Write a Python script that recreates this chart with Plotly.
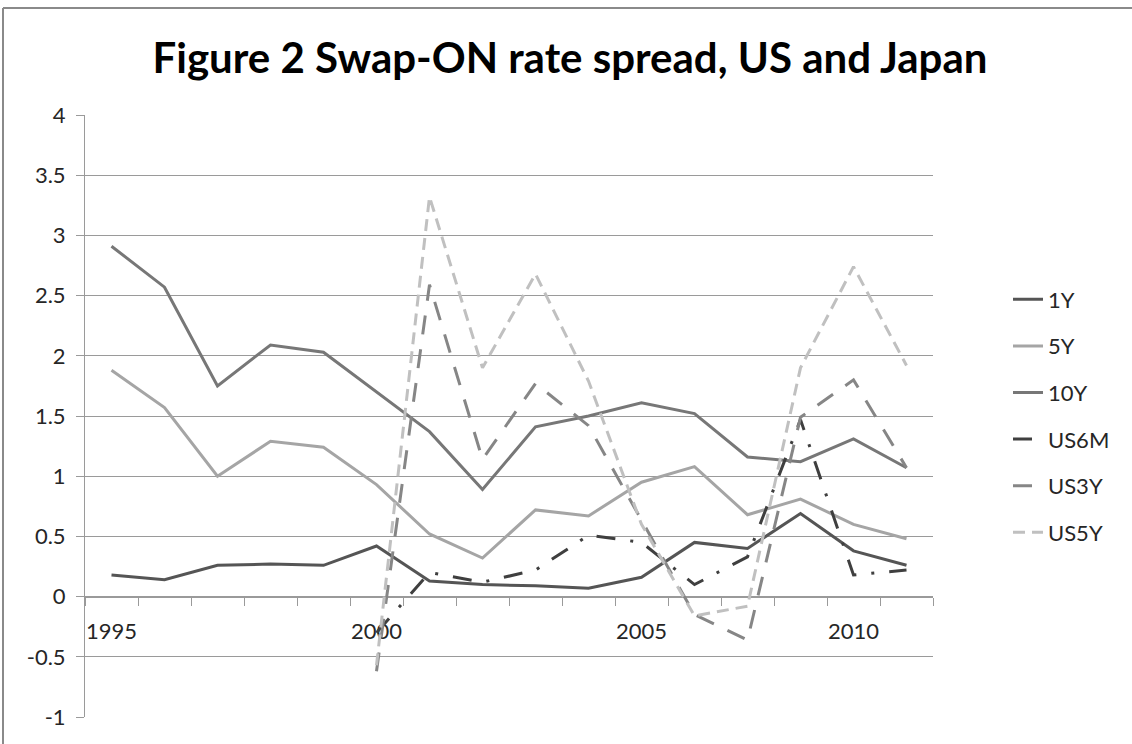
import plotly.graph_objects as go

# Observation years (category axis) and the labels shown under the axis
years = ["1995", "1996", "1997", "1998", "1999", "2000", "2001", "2002",
         "2003", "2004", "2005", "2006", "2007", "2008", "2010", "2011"]
year_labels = ["1995", "", "", "", "", "2000", "", "", "", "", "2005",
               "", "", "", "2010", ""]

# Japan swap-ON spreads
jp_1y = [0.18, 0.14, 0.26, 0.27, 0.26, 0.42, 0.13, 0.10, 0.09, 0.07,
         0.16, 0.45, 0.40, 0.69, 0.38, 0.26]
jp_5y = [1.88, 1.57, 1.00, 1.29, 1.24, 0.93, 0.52, 0.32, 0.72, 0.67,
         0.95, 1.08, 0.68, 0.81, 0.60, 0.48]
jp_10y = [2.91, 2.57, 1.75, 2.09, 2.03, 1.70, 1.37, 0.89, 1.41, 1.50,
          1.61, 1.52, 1.16, 1.12, 1.31, 1.07]

# US swap-ON spreads (available from 2000)
us_6m = [None, None, None, None, None, -0.30, 0.20, 0.12, 0.22, 0.51,
         0.45, 0.10, 0.33, 1.47, 0.18, 0.22]
us_3y = [None, None, None, None, None, -0.62, 2.59, 1.14, 1.77, 1.42,
         0.63, -0.15, -0.36, 1.49, 1.80, 1.07]
us_5y = [None, None, None, None, None, -0.57, 3.32, 1.90, 2.68, 1.79,
         0.60, -0.16, -0.08, 1.90, 2.74, 1.92]

y_ticks = [-1, -0.5, 0, 0.5, 1, 1.5, 2, 2.5, 3, 3.5, 4]
y_labels = ["-1", "-0.5", "0", "0.5", "1", "1.5", "2", "2.5", "3", "3.5", "4"]

series = [
    ("1Y", jp_1y, "#555555", "solid"),
    ("5Y", jp_5y, "#a5a5a5", "solid"),
    ("10Y", jp_10y, "#777777", "solid"),
    ("US6M", us_6m, "#3f3f3f", "19px,15px,3px,15px"),
    ("US3Y", us_3y, "#868686", "19px,15px"),
    ("US5Y", us_5y, "#c0c0c0", "12px,7px"),
]

FONT = "Lato"
TEXT = "#262626"
GRID = "#9a9a9a"

fig = go.Figure()
for name, values, color, dash in series:
    fig.add_trace(go.Scatter(
        x=years, y=values, name=name, mode="lines",
        legendgroup=name,
        line=dict(color=color, width=3, dash=dash),
        connectgaps=False,
    ))

W, H = 1132, 744
ml, mr, mt, mb = 85, 199, 115, 27
pw, ph = W - ml - mr, H - mt - mb
y_lo, y_hi = y_ticks[0], y_ticks[-1]

fig.update_layout(
    width=W, height=H,
    margin=dict(l=ml, r=mr, t=mt, b=mb),
    paper_bgcolor="white", plot_bgcolor="white",
    font=dict(family=FONT, size=22, color=TEXT),
    title=dict(
        text="Figure 2 Swap-ON rate spread, US and Japan",
        font=dict(family=FONT, size=42, color="black", weight="bold"),
        x=570 / W, xanchor="center", xref="container",
        y=1 - 58 / H, yanchor="middle", yref="container",
    ),
    showlegend=True,
    legend=dict(
        x=(1008 - ml) / pw, xanchor="left",
        y=0.5, yanchor="middle",
        traceorder="grouped", tracegroupgap=15,
        font=dict(family=FONT, size=22, color=TEXT),
        bgcolor="rgba(0,0,0,0)",
    ),
    xaxis=dict(
        type="category",
        range=[-0.5, len(years) - 0.5],
        tickmode="array", tickvals=years, ticktext=year_labels,
        tickson="boundaries", tickangle=0,
        ticks="outside", ticklen=8, tickwidth=1, tickcolor=GRID,
        showline=True, linecolor=GRID, linewidth=1,
        showgrid=False, zeroline=False,
        anchor="free", position=(0 - y_lo) / (y_hi - y_lo),
        tickfont=dict(family=FONT, size=22, color=TEXT),
        ticklabelstandoff=15,
        layer="below traces",
    ),
    yaxis=dict(
        range=[y_lo, y_hi],
        tickmode="array", tickvals=y_ticks, ticktext=y_labels,
        ticks="outside", ticklen=8, tickwidth=1, tickcolor=GRID,
        showline=True, linecolor=GRID, linewidth=1,
        showgrid=True, gridcolor=GRID, gridwidth=1,
        zeroline=False,
        tickfont=dict(family=FONT, size=22, color=TEXT),
        ticklabelstandoff=6,
    ),
)

# Outer chart frame: left and top edges
frame = dict(color="#8a8a8a", width=2)
left_x = (3 - ml) / pw
top_y = (H - mb - 8) / ph
fig.add_shape(type="line", xref="paper", yref="paper",
              x0=left_x, x1=left_x, y0=top_y, y1=(H - mb - (H + 40)) / ph,
              line=frame, layer="below")
fig.add_shape(type="line", xref="paper", yref="paper",
              x0=left_x, x1=(W + 40 - ml) / pw, y0=top_y, y1=top_y,
              line=frame, layer="below")

fig.write_html("out.html", config={"displayModeBar": False})
